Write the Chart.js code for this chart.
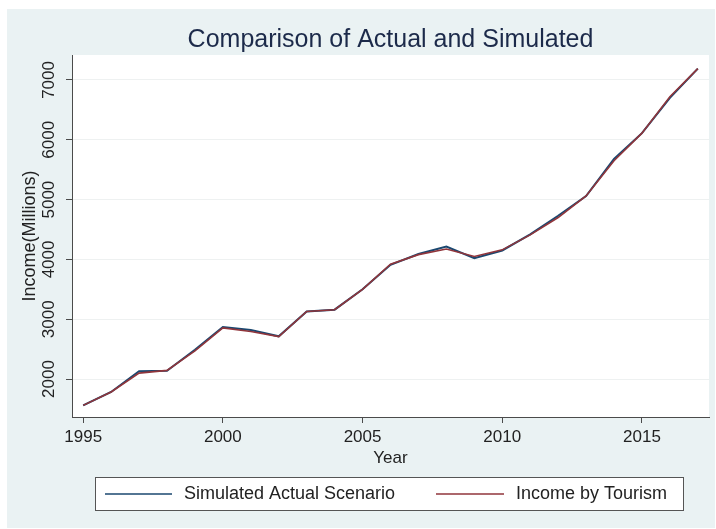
<!DOCTYPE html>
<html>
<head>
<meta charset="utf-8">
<script src="https://cdn.jsdelivr.net/npm/chart.js@4.4.0/dist/chart.umd.min.js"></script>
<style>
  html, body { margin: 0; padding: 0; background: #fff; }
  #wrap { width: 716px; height: 529px; position: relative; }
</style>
</head>
<body>
<div id="wrap"><canvas id="chart" width="716" height="529"></canvas></div>
<script>
const years = [1995, 1996, 1997, 1998, 1999, 2000, 2001, 2002, 2003, 2004, 2005, 2006,
               2007, 2008, 2009, 2010, 2011, 2012, 2013, 2014, 2015, 2016, 2017];
const simulatedActual = [1560, 1785, 2130, 2140, 2490, 2870, 2820, 2715, 3130, 3160, 3500, 3910,
                         4090, 4215, 4020, 4150, 4420, 4730, 5060, 5680, 6110, 6700, 7190];
const incomeByTourism = [1560, 1785, 2100, 2145, 2470, 2855, 2795, 2710, 3130, 3160, 3500, 3920,
                         4080, 4175, 4050, 4160, 4410, 4700, 5060, 5650, 6110, 6720, 7190];
const xTicks = [1995, 2000, 2005, 2010, 2015];
const yTicks = [2000, 3000, 4000, 5000, 6000, 7000];
const seriesNames = ['Simulated Actual Scenario', 'Income by Tourism'];

const FONT = "'Liberation Sans', Arial, sans-serif";
const NAVY = '#1a476f';
const MAROON = '#90353b';
const AXIS = '#4b4b4b';

// frame, titles, rotated y labels and the boxed legend, stata style
const stataDecor = {
  id: 'stataDecor',
  beforeDraw(chart) {
    const { ctx, chartArea: a } = chart;
    ctx.save();
    ctx.fillStyle = '#ffffff';
    ctx.fillRect(0, 0, chart.width, chart.height);
    ctx.fillStyle = '#eaf2f3';
    ctx.fillRect(7, 9, 708, 519);
    ctx.fillStyle = '#ffffff';
    ctx.fillRect(a.left, a.top, a.right - a.left, a.bottom - a.top);
    ctx.restore();
  },
  afterDraw(chart) {
    const { ctx, chartArea: a } = chart;
    const y = chart.scales.y;
    const cx = (a.left + a.right) / 2;
    ctx.save();
    ctx.textAlign = 'center';
    ctx.textBaseline = 'middle';

    ctx.fillStyle = '#1c2a4a';
    ctx.font = '25px ' + FONT;
    ctx.fillText('Comparison of Actual and Simulated', cx, 40);

    ctx.fillStyle = '#222';
    ctx.font = '17px ' + FONT;
    y.ticks.forEach(t => {
      ctx.save();
      ctx.translate(49, y.getPixelForValue(t.value));
      ctx.rotate(-Math.PI / 2);
      ctx.fillText(String(t.value), 0, 0);
      ctx.restore();
    });

    ctx.font = '18px ' + FONT;
    ctx.save();
    ctx.translate(30, (a.top + a.bottom) / 2);
    ctx.rotate(-Math.PI / 2);
    ctx.fillText('Income(Millions)', 0, 0);
    ctx.restore();

    ctx.font = '17px ' + FONT;
    ctx.fillText('Year', cx, 458);

    // legend box
    ctx.fillStyle = '#fff';
    ctx.fillRect(95.5, 477.5, 588, 33);
    ctx.strokeStyle = '#555';
    ctx.lineWidth = 1;
    ctx.strokeRect(95.5, 477.5, 588, 33);
    const items = [
      { color: NAVY, x0: 105, x1: 172, tx: 184 },
      { color: MAROON, x0: 436, x1: 504, tx: 516 }
    ];
    ctx.font = '18px ' + FONT;
    ctx.textAlign = 'left';
    ctx.fillStyle = '#222';
    items.forEach((it, i) => {
      ctx.strokeStyle = it.color;
      ctx.lineWidth = 1.5;
      ctx.beginPath();
      ctx.moveTo(it.x0, 494);
      ctx.lineTo(it.x1, 494);
      ctx.stroke();
      ctx.fillText(seriesNames[i], it.tx, 494);
    });
    ctx.restore();
  }
};

new Chart(document.getElementById('chart'), {
  type: 'line',
  data: {
    datasets: [
      {
        label: seriesNames[0],
        data: years.map((yr, i) => ({ x: yr, y: simulatedActual[i] })),
        borderColor: NAVY,
        borderWidth: 2,
        pointRadius: 0,
        tension: 0,
        order: 2
      },
      {
        label: seriesNames[1],
        data: years.map((yr, i) => ({ x: yr, y: incomeByTourism[i] })),
        borderColor: MAROON,
        borderWidth: 1.6,
        pointRadius: 0,
        tension: 0,
        order: 1
      }
    ]
  },
  options: {
    responsive: false,
    animation: false,
    events: [],
    layout: { padding: { top: 55, right: 7, left: 0, bottom: 0 } },
    plugins: { legend: { display: false }, title: { display: false }, tooltip: { enabled: false } },
    scales: {
      x: {
        type: 'linear',
        min: 1994.6,
        max: 2017.4,
        afterBuildTicks: s => { s.ticks = xTicks.map(v => ({ value: v })); },
        afterFit: s => { s.height = 112; },
        border: { display: true, color: AXIS, width: 1 },
        grid: { drawOnChartArea: false, drawTicks: true, tickLength: 6, tickColor: AXIS },
        ticks: { color: '#222', font: { family: FONT, size: 17 }, padding: 4, maxRotation: 0,
                 callback: v => String(v) }
      },
      y: {
        min: 1366,
        max: 7417,
        afterBuildTicks: s => { s.ticks = yTicks.map(v => ({ value: v })); },
        afterFit: s => { s.width = 72; },
        border: { display: true, color: AXIS, width: 1 },
        grid: { color: '#eef1f1', lineWidth: 1, drawTicks: true, tickLength: 6, tickColor: AXIS },
        ticks: { display: false }
      }
    }
  },
  plugins: [stataDecor]
});
</script>
</body>
</html>
